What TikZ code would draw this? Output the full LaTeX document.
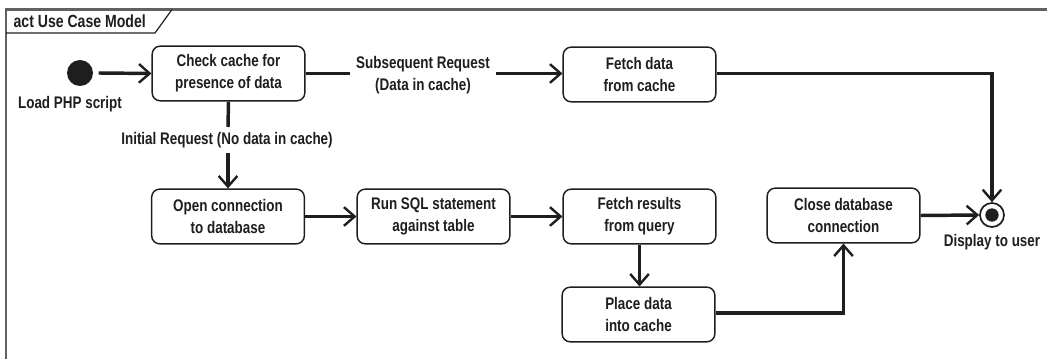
\documentclass[tikz,border=0pt]{standalone}
\usepackage{fontspec}
\setmainfont{Liberation Sans}[FakeStretch=0.80]
\usetikzlibrary{arrows.meta}
\definecolor{ink}{HTML}{1E1E1E}
\newcommand{\diagfont}{\bfseries\fontsize{12.6}{16.5}\selectfont}
\tikzset{
  action/.style={draw=ink, line width=1.1pt, rounded corners=6pt,
    minimum width=114.5pt, minimum height=41pt, align=center,
    font=\diagfont, text=ink, inner sep=1pt},
  flow/.style={draw=ink, line width=2.6pt,
    -{Straight Barb[length=8pt, width=14pt, line width=1.8pt]}},
  plainflow/.style={draw=ink, line width=2.6pt},
  guard/.style={fill=white, inner sep=2pt, align=center,
    font=\diagfont, text=ink},
  caption/.style={font=\diagfont, text=ink, inner sep=1pt}
}
\begin{document}
\begin{tikzpicture}[x=0.75pt, y=-0.75pt]
\useasboundingbox (0,0) rectangle (1047,359);

% frame with its name tag
\draw[ink!70, line width=1.6pt] (6,359) -- (6,9.5) -- (1047,9.5);
\draw[ink, line width=0.9pt] (6,33) -- (155,33) -- (172,9.5);
\node[caption, anchor=west, font=\bfseries\fontsize{13.2}{16.5}\selectfont] (tag) at (12,21.5) {act Use Case Model};

% initial and final nodes
\node[circle, fill=ink, minimum size=19.5pt, inner sep=0pt] (start) at (80,73) {};
\node[caption] (startlbl) at (70,104) {Load PHP script};
\node[circle, draw=ink, line width=1.3pt, minimum size=18pt, inner sep=0pt] (stop) at (992,215) {};
\node[circle, fill=ink, minimum size=10pt, inner sep=0pt] (stopdot) at (992,215) {};
\node[caption] (stoplbl) at (992,242) {Display to user};

% actions
\node[action] (check)  at (228.5,73.5)  {Check cache for\\presence of data};
\node[action] (fetchc) at (639.5,74.5)  {Fetch data\\from cache};
\node[action] (open)   at (228,216.5)   {Open connection\\to database};
\node[action] (runsql) at (433.5,216.5) {Run SQL statement\\against table};
\node[action] (fetchr) at (639.5,216.5) {Fetch results\\from query};
\node[action] (close)  at (843.5,215.5) {Close database\\connection};
\node[action] (place)  at (638.5,314.5) {Place data\\into cache};

% control flows
\draw[flow] ([xshift=4pt]start.east) -- (check.west);

\draw[plainflow] (check.east) -- (350,73.5);
\node[guard] (subseq) at (423,75) {Subsequent Request\\(Data in cache)};
\draw[flow] (496,73.5) -- (fetchc.west |- 0,73.5);

\draw[plainflow] (check.south) -- (228,127);
\node[guard] (initial) at (227,140) {Initial Request (No data in cache)};
\draw[flow] (228,153) -- (open.north);

\draw[flow] (open.east) -- (runsql.west);
\draw[flow] (runsql.east) -- (fetchr.west);
\draw[flow] (fetchr.south) -- (place.north -| fetchr.south);
\draw[flow] (place.east |- 0,313) -| (close.south);
\draw[flow] (close.east) -- (stop.west);
\draw[flow] (fetchc.east |- 0,73.5) -| (stop.north);
\end{tikzpicture}
\end{document}
